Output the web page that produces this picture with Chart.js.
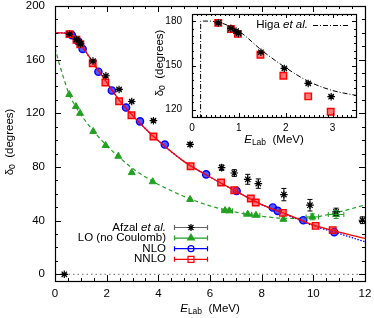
<!DOCTYPE html>
<html><head><meta charset="utf-8">
<script src="https://cdn.jsdelivr.net/npm/chart.js@4.4.0/dist/chart.umd.min.js"></script>
<style>
html,body{margin:0;padding:0;background:#fff;}
#wrap{position:relative;width:374px;height:318px;overflow:hidden;}
#main{position:absolute;left:0;top:0;}
#inset{position:absolute;left:150px;top:0;}
</style></head><body>
<div id="wrap"><canvas id="main" width="374" height="318"></canvas><canvas id="inset" width="220" height="150"></canvas></div>
<script>
// ---------------- data ----------------
const seriesNames = ['Afzal et al.', 'LO (no Coulomb)', 'NLO', 'NNLO'];
const higaName = 'Higa et al.';

const afzalE = [0.36, 0.56, 0.83, 0.94, 0.99, 1.47, 1.97, 2.48, 2.97, 3.81, 5.23, 6.45, 6.94, 7.46, 7.87, 8.86, 9.87, 10.88, 11.9];
const afzalD = [0, 179, 175.2, 173.4, 171.8, 159, 148, 137.8, 128.8, 114.5, 96.8, 79.5, 75.5, 70.8, 67.6, 59.4, 51.5, 46.5, 40.3];
const afzalErr = [0.5, 0.6, 0.6, 0.6, 0.6, 0.8, 0.8, 0.8, 0.9, 1, 1.3, 2, 2.5, 3.7, 3.5, 4.6, 4.3, 2.8, 2.5];

const loE = [0.55, 0.81, 0.97, 1.48, 1.96, 2.45, 2.97, 3.78, 5.23, 6.58, 6.75, 7.46, 7.78, 8.84, 9.96, 10.88];
const loD = [134, 125, 120, 106.5, 96, 88, 75.8, 69, 55.8, 47.5, 47.3, 44.8, 44, 41, 42.8, 44.6];
const loEErr = [0, 0, 0, 0, 0, 0, 0, 0, 0, 0.12, 0.12, 0.15, 0.15, 0, 0.24, 0.3];
const loDErr = [0, 0, 0, 0, 0, 0, 0, 0, 0, 0, 0, 0, 0, 0, 2.2, 3];

const nloE = [0.65, 0.9, 1.07, 1.68, 2.2, 2.75, 3.29, 4.25, 5.85, 7.03, 8.43, 8.62, 9.61, 10.81];
const nloD = [178.3, 173.5, 168, 151, 137, 124.3, 114, 96.7, 74.5, 62.1, 49.8, 47.3, 40.3, 31.4];

const nnloE = [0.56, 0.83, 0.98, 1.46, 1.95, 2.48, 2.96, 3.81, 5.25, 6.43, 6.94, 7.58, 7.77, 8.82, 10.09, 10.75];
const nnloD = [179, 174.8, 171.5, 157.3, 143, 129, 118.6, 102.7, 80.5, 68.4, 62.6, 56.5, 53.5, 45.8, 36.1, 32.9];

// smooth theory curves
const curveE = [0, 0.2, 0.4, 0.6, 1, 1.5, 2, 2.5, 3, 3.5, 4, 5, 6, 7, 8, 9, 10, 11, 12];
const nnloCurve = [180, 180, 179.8, 178.8, 171, 157, 143, 129.5, 118.5, 108.5, 99.5, 84, 72.5, 62, 52, 44.5, 36.8, 31.5, 26.7];
const nloCurve  = [180, 180, 179.8, 178.8, 171, 157, 143, 129.5, 118.5, 108.5, 99.5, 84, 72.5, 62, 52, 44.2, 36.2, 30.3, 24.2];
const loCurveE = [0, 0.15, 0.3, 0.55, 0.8, 1, 1.5, 2, 2.5, 3, 3.5, 4, 5, 6, 7, 8, 9, 10, 11, 12];
const loCurve  = [169, 158, 148.5, 134, 125, 119, 106.5, 96, 87, 79, 72.5, 67, 58, 51, 46.3, 43.2, 41.7, 42.5, 46.5, 51.7];
const zeroLevel = 0;

// inset: Higa et al. curve
const higaE = [0.183, 0.185, 0.25, 0.55, 1.0, 1.5, 2.0, 2.5, 3.0, 3.5];
const higaD = [100, 180, 180.2, 179.5, 173.3, 160, 148.5, 139, 133, 129.7];

// tick labels
const xTickVals = [0, 2, 4, 6, 8, 10, 12];
const yTickVals = [0, 40, 80, 120, 160, 200];
const inXTickVals = [0, 1, 2, 3];
const inYTickVals = [120, 150, 180];

// ---------------- helpers ----------------
const FF = '"Liberation Sans", Arial, Helvetica, sans-serif';
Chart.defaults.font.family = FF;
Chart.defaults.color = '#000';
const pts = (xs, ys) => xs.map((x, i) => ({x: x, y: ys[i]}));
const GREEN = '#22a022', BLUE = '#0000ff', RED = '#ff0000';
const RED_FILL = 'rgba(255,30,30,0.6)', BLUE_FILL = 'rgba(30,30,255,0.75)';

function drawRich(ctx, parts, x, y, align) {
  let w = 0;
  for (const p of parts) { ctx.font = p.font; w += ctx.measureText(p.t).width; }
  let cx = align === 'center' ? x - w / 2 : (align === 'right' ? x - w : x);
  ctx.textAlign = 'left'; ctx.textBaseline = 'middle'; ctx.fillStyle = '#000';
  for (const p of parts) { ctx.font = p.font; ctx.fillText(p.t, cx, y + (p.dy || 0)); cx += ctx.measureText(p.t).width; }
}
function marker(ctx, style, x, y, r, stroke, fill, lw) {
  ctx.save(); ctx.lineWidth = lw; ctx.strokeStyle = stroke; ctx.fillStyle = fill;
  ctx.beginPath();
  if (style === 'star') {
    ctx.moveTo(x - r, y); ctx.lineTo(x + r, y); ctx.moveTo(x, y - r); ctx.lineTo(x, y + r);
    const d = r * 0.707; ctx.moveTo(x - d, y - d); ctx.lineTo(x + d, y + d); ctx.moveTo(x - d, y + d); ctx.lineTo(x + d, y - d);
    ctx.stroke();
  } else if (style === 'triangle') {
    ctx.moveTo(x, y - r); ctx.lineTo(x + r * 0.87, y + r * 0.5); ctx.lineTo(x - r * 0.87, y + r * 0.5); ctx.closePath();
    ctx.fill(); ctx.stroke();
  } else if (style === 'circle') {
    ctx.arc(x, y, r, 0, Math.PI * 2); ctx.fill(); ctx.stroke();
  } else {
    ctx.rect(x - r, y - r, 2 * r, 2 * r); ctx.fill(); ctx.stroke();
  }
  ctx.restore();
}
function isMult(v, m) { return Math.abs(v / m - Math.round(v / m)) < 1e-6; }

function framePlugin(cfg) {
  return {
    id: 'frame_' + cfg.name,
    beforeDatasetsDraw(chart) {
      if (!cfg.bg) return;
      const a = chart.chartArea, ctx = chart.ctx;
      ctx.save(); ctx.fillStyle = '#fff'; ctx.fillRect(a.left, a.top, a.right - a.left, a.bottom - a.top); ctx.restore();
    },
    afterDraw(chart) {
      const ctx = chart.ctx, a = chart.chartArea, xs = chart.scales.x, ys = chart.scales.y;
      ctx.save(); ctx.strokeStyle = '#000'; ctx.lineWidth = 1;
      ctx.beginPath();
      for (let v = xs.min; v <= xs.max + 1e-9; v += cfg.xMinor) {
        const px = Math.round(xs.getPixelForValue(v)) + 0.5;
        const L = isMult(v, cfg.xMajor) ? cfg.maj : cfg.min;
        ctx.moveTo(px, a.bottom); ctx.lineTo(px, a.bottom - L);
        ctx.moveTo(px, a.top); ctx.lineTo(px, a.top + L);
      }
      const y0 = Math.ceil(ys.min / cfg.yMinor) * cfg.yMinor;
      for (let v = y0; v <= ys.max + 1e-9; v += cfg.yMinor) {
        const py = Math.round(ys.getPixelForValue(v)) + 0.5;
        const L = isMult(v, cfg.yMajor) ? cfg.maj : cfg.min;
        ctx.moveTo(a.left, py); ctx.lineTo(a.left + L, py);
        ctx.moveTo(a.right, py); ctx.lineTo(a.right - L, py);
      }
      ctx.stroke();
      ctx.lineWidth = 1.2;
      ctx.strokeRect(Math.round(a.left) + 0.5, Math.round(a.top) + 0.5, Math.round(a.right - a.left), Math.round(a.bottom - a.top));
      ctx.restore();
      if (cfg.extra) cfg.extra(chart);
    }
  };
}
function errPlugin(list) {
  return {
    id: 'errbars',
    afterDatasetsDraw(chart) {
      const ctx = chart.ctx, a = chart.chartArea, xs = chart.scales.x, ys = chart.scales.y;
      ctx.save(); ctx.beginPath(); ctx.rect(a.left, a.top, a.right - a.left, a.bottom - a.top); ctx.clip();
      for (const e of list) {
        ctx.strokeStyle = e.color; ctx.lineWidth = 1;
        chart.data.datasets[e.ds].data.forEach((p, i) => {
          const px = xs.getPixelForValue(p.x), py = ys.getPixelForValue(p.y);
          const ye = e.yErr ? e.yErr[i] : 0, xe = e.xErr ? e.xErr[i] : 0;
          ctx.beginPath();
          if (ye > 0) {
            const y1 = ys.getPixelForValue(p.y - ye), y2 = ys.getPixelForValue(p.y + ye);
            ctx.moveTo(px, y1); ctx.lineTo(px, y2);
            ctx.moveTo(px - 2.5, y1); ctx.lineTo(px + 2.5, y1); ctx.moveTo(px - 2.5, y2); ctx.lineTo(px + 2.5, y2);
          }
          if (xe > 0) {
            const x1 = xs.getPixelForValue(p.x - xe), x2 = xs.getPixelForValue(p.x + xe);
            ctx.moveTo(x1, py); ctx.lineTo(x2, py);
            ctx.moveTo(x1, py - 2.5); ctx.lineTo(x1, py + 2.5); ctx.moveTo(x2, py - 2.5); ctx.lineTo(x2, py + 2.5);
          }
          ctx.stroke();
        });
      }
      ctx.restore();
    }
  };
}

const fTitle = '11.5px ' + FF, fSub = '8.5px ' + FF, fIt = 'italic 11.5px ' + FF;

// ---------------- main chart ----------------
function mainExtra(chart) {
  const ctx = chart.ctx;
  ctx.save();
  drawRich(ctx, [{t: 'E', font: fIt}, {t: 'Lab', font: fSub, dy: 3}, {t: '  (MeV)', font: fTitle}], 210, 309, 'center');
  ctx.translate(10, 142); ctx.rotate(-Math.PI / 2);
  drawRich(ctx, [{t: 'δ', font: fTitle}, {t: '0', font: fSub, dy: 3}, {t: '  (degrees)', font: fTitle}], 0, 0, 'center');
  ctx.restore();
  const rows = [
    {parts: [{t: 'Afzal ', font: fTitle}, {t: 'et al.', font: fIt}], line: '#666', st: 'star', sc: '#000', fc: '#000', r: 3.5},
    {parts: [{t: seriesNames[1], font: fTitle}], line: GREEN, st: 'triangle', sc: GREEN, fc: GREEN, r: 3.8},
    {parts: [{t: seriesNames[2], font: fTitle}], line: BLUE, st: 'circle', sc: BLUE, fc: 'rgba(255,255,255,0)', r: 3},
    {parts: [{t: seriesNames[3], font: fTitle}], line: RED, st: 'rect', sc: RED, fc: 'rgba(255,255,255,0)', r: 3}
  ];
  rows.forEach((row, i) => {
    const y = 227.5 + i * 10.6;
    drawRich(ctx, row.parts, 166, y, 'right');
    ctx.save(); ctx.strokeStyle = row.line; ctx.lineWidth = 1.2; ctx.beginPath();
    ctx.moveTo(174, y); ctx.lineTo(208, y);
    ctx.moveTo(174.5, y - 2.5); ctx.lineTo(174.5, y + 2.5); ctx.moveTo(207.5, y - 2.5); ctx.lineTo(207.5, y + 2.5);
    ctx.stroke(); ctx.restore();
    marker(ctx, row.st, 191, y, row.r, row.sc, row.fc, 1.2);
  });
}

new Chart(document.getElementById('main'), {
  type: 'scatter',
  data: {
    datasets: [
      {label: seriesNames[0], data: pts(afzalE, afzalD), pointStyle: 'star', pointRadius: 3.8, borderColor: '#000', backgroundColor: '#000', borderWidth: 1.2, order: 0},
      {label: seriesNames[3], data: pts(nnloE, nnloD), pointStyle: 'rect', pointRadius: 4.6, borderColor: RED, backgroundColor: RED_FILL, borderWidth: 1.4, order: 1},
      {label: seriesNames[3] + ' curve', data: pts(curveE, nnloCurve), showLine: true, pointRadius: 0, borderColor: RED, borderWidth: 1.3, cubicInterpolationMode: 'monotone', order: 2},
      {label: seriesNames[2], data: pts(nloE, nloD), pointStyle: 'circle', pointRadius: 3.6, borderColor: BLUE, backgroundColor: BLUE_FILL, borderWidth: 1.4, order: 3},
      {label: seriesNames[2] + ' curve', data: pts(curveE, nloCurve), showLine: true, pointRadius: 0, borderColor: BLUE, borderWidth: 1.3, borderDash: [1.5, 1.5], cubicInterpolationMode: 'monotone', order: 4},
      {label: seriesNames[1], data: pts(loE, loD), pointStyle: 'triangle', pointRadius: 4, borderColor: GREEN, backgroundColor: GREEN, borderWidth: 1, order: 5},
      {label: seriesNames[1] + ' curve', data: pts(loCurveE, loCurve), showLine: true, pointRadius: 0, borderColor: GREEN, borderWidth: 1.2, borderDash: [4, 3], cubicInterpolationMode: 'monotone', order: 6},
      {label: 'zero', data: [{x: 0, y: zeroLevel}, {x: 12, y: zeroLevel}], showLine: true, pointRadius: 0, borderColor: '#888', borderWidth: 1.2, borderDash: [1.5, 3], order: 7}
    ]
  },
  options: {
    responsive: false, animation: false, devicePixelRatio: 1,
    layout: {padding: {left: 0, right: 9, top: 5, bottom: 0}},
    plugins: {legend: {display: false}, tooltip: {enabled: false}},
    scales: {
      x: {type: 'linear', min: 0, max: 12,
        grid: {display: false, drawTicks: false}, border: {display: false},
        ticks: {font: {size: 11.5}, color: '#000', padding: 6, maxRotation: 0, autoSkip: false},
        afterBuildTicks: s => { s.ticks = xTickVals.map(v => ({value: v})); },
        afterFit: s => { s.height = 37; s.paddingLeft = 0; s.paddingRight = 0; }},
      y: {type: 'linear', min: -5, max: 200,
        grid: {display: false, drawTicks: false}, border: {display: false},
        ticks: {font: {size: 11.5}, color: '#000', padding: 10, autoSkip: false},
        afterBuildTicks: s => { s.ticks = yTickVals.map(v => ({value: v})); },
        afterFit: s => { s.width = 55; s.paddingTop = 0; s.paddingBottom = 0; }}
    }
  },
  plugins: [
    errPlugin([
      {ds: 0, yErr: afzalErr, color: '#000'},
      {ds: 5, xErr: loEErr, yErr: loDErr, color: GREEN}
    ]),
    framePlugin({name: 'main', xMinor: 0.5, xMajor: 2, yMinor: 10, yMajor: 40, maj: 6, min: 3, extra: mainExtra})
  ]
});

// ---------------- inset chart ----------------
const fInTick = 10;
function insetExtra(chart) {
  const ctx = chart.ctx;
  ctx.save();
  drawRich(ctx, [{t: 'E', font: fIt}, {t: 'Lab', font: fSub, dy: 3}, {t: '  (MeV)', font: fTitle}], 124, 140, 'center');
  ctx.translate(10, 63); ctx.rotate(-Math.PI / 2);
  drawRich(ctx, [{t: 'δ', font: fTitle}, {t: '0', font: fSub, dy: 3}, {t: '  (degrees)', font: fTitle}], 0, 0, 'center');
  ctx.restore();
  drawRich(ctx, [{t: 'Higa ', font: fTitle}, {t: 'et al.', font: fIt}], 158, 25, 'right');
  ctx.save(); ctx.strokeStyle = '#000'; ctx.lineWidth = 1; ctx.setLineDash([5, 2, 1, 2]);
  ctx.beginPath(); ctx.moveTo(163, 25.5); ctx.lineTo(199, 25.5); ctx.stroke(); ctx.restore();
}

new Chart(document.getElementById('inset'), {
  type: 'scatter',
  data: {
    datasets: [
      {label: seriesNames[0], data: pts(afzalE, afzalD), pointStyle: 'star', pointRadius: 3.8, borderColor: '#000', backgroundColor: '#000', borderWidth: 1.2, order: 0},
      {label: seriesNames[3], data: pts(nnloE, nnloD), pointStyle: 'rect', pointRadius: 4.6, borderColor: RED, backgroundColor: RED_FILL, borderWidth: 1.4, order: 1},
      {label: higaName, data: pts(higaE, higaD), showLine: true, pointRadius: 0, borderColor: '#000', borderWidth: 1, borderDash: [5, 2, 1, 2], cubicInterpolationMode: 'monotone', order: 2}
    ]
  },
  options: {
    responsive: false, animation: false, devicePixelRatio: 1,
    layout: {padding: {left: 0, right: 14, top: 14, bottom: 0}},
    plugins: {legend: {display: false}, tooltip: {enabled: false}},
    scales: {
      x: {type: 'linear', min: 0, max: 3.5,
        grid: {display: false, drawTicks: false}, border: {display: false},
        ticks: {font: {size: fInTick}, color: '#000', padding: 5, maxRotation: 0, autoSkip: false},
        afterBuildTicks: s => { s.ticks = inXTickVals.map(v => ({value: v})); },
        afterFit: s => { s.height = 33; s.paddingLeft = 0; s.paddingRight = 0; }},
      y: {type: 'linear', min: 115, max: 185,
        grid: {display: false, drawTicks: false}, border: {display: false},
        ticks: {font: {size: fInTick}, color: '#000', padding: 10, autoSkip: false},
        afterBuildTicks: s => { s.ticks = inYTickVals.map(v => ({value: v})); },
        afterFit: s => { s.width = 42; s.paddingTop = 0; s.paddingBottom = 0; }}
    }
  },
  plugins: [
    errPlugin([{ds: 0, yErr: afzalErr, color: '#000'}]),
    framePlugin({name: 'inset', bg: true, xMinor: 0.1, xMajor: 1, yMinor: 5, yMajor: 30, maj: 4, min: 2, extra: insetExtra})
  ]
});
</script>
</body></html>
